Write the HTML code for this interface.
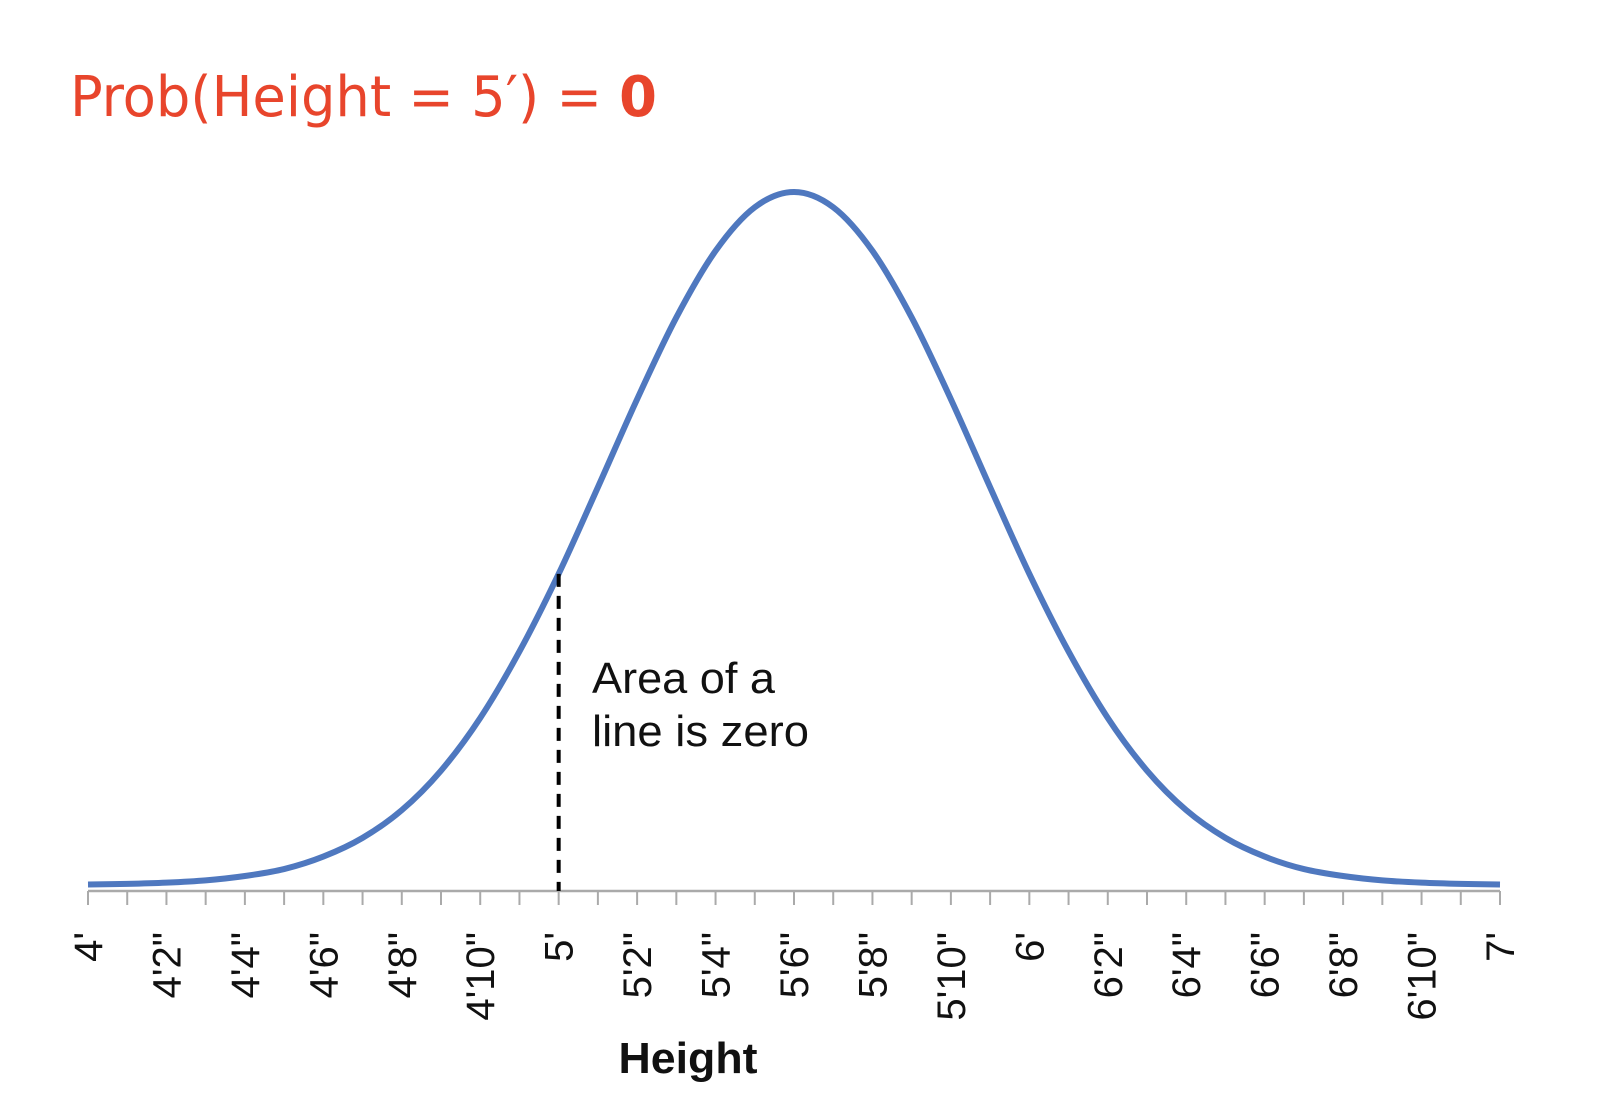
<!DOCTYPE html>
<html><head><meta charset="utf-8"><style>
html,body{margin:0;padding:0;background:#fff;}
svg{display:block;}
</style></head><body>
<svg id="chart" width="1600" height="1094" viewBox="0 0 1600 1094" xmlns="http://www.w3.org/2000/svg">
<text x="70" y="116" font-family="'DejaVu Sans Condensed','DejaVu Sans',sans-serif" font-size="56" fill="#e8452c" textLength="587" lengthAdjust="spacingAndGlyphs">Prob(Height = 5′) = <tspan font-weight="bold">0</tspan></text>
<g id="axis"></g>
<g id="series"></g>
<text x="592" y="693" font-family="'Liberation Sans',sans-serif" font-size="44" fill="#111" textLength="183" lengthAdjust="spacingAndGlyphs">Area of a</text>
<text x="592" y="746" font-family="'Liberation Sans',sans-serif" font-size="44" fill="#111" textLength="217" lengthAdjust="spacingAndGlyphs">line is zero</text>
<text x="688" y="1073" text-anchor="middle" font-family="'Liberation Sans',sans-serif" font-weight="bold" font-size="44" fill="#111" textLength="139" lengthAdjust="spacingAndGlyphs">Height</text>
</svg>
<script>
// data: height in inches from 4' (48) to 7' (84), relative density (peak = 100)
const heights = [48,49,50,51,52,53,54,55,56,57,58,59,60,61,62,63,64,65,66,67,68,69,70,71,72,73,74,75,76,77,78,79,80,81,82,83,84];
const density = [0.07,0.16,0.34,0.67,1.3,2.3,4.1,6.8,10.8,16.5,24.1,33.7,44.9,57.4,70.1,81.9,91.5,97.8,100,97.8,91.5,81.9,70.1,57.4,44.9,33.7,24.1,16.5,10.8,6.8,4.1,2.3,1.3,0.67,0.34,0.16,0.07];
const tickLabels = ["4'","4'2\"","4'4\"","4'6\"","4'8\"","4'10\"","5'","5'2\"","5'4\"","5'6\"","5'8\"","5'10\"","6'","6'2\"","6'4\"","6'6\"","6'8\"","6'10\"","7'"];
const tickLabelValues = [48,50,52,54,56,58,60,62,64,66,68,70,72,74,76,78,80,82,84];
const markerValue = [60];

const NS = 'http://www.w3.org/2000/svg';
const X0 = 88, X1 = 1500, XMIN = 48, XMAX = 84;
const Y0 = 885, Y100 = 192, AXISY = 891;
const xs = v => X0 + (v - XMIN) / (XMAX - XMIN) * (X1 - X0);
const ys = v => Y0 - v / 100 * (Y0 - Y100);
function mk(tag, attrs, parent){ const e = document.createElementNS(NS, tag); for (const k in attrs) e.setAttribute(k, attrs[k]); parent.appendChild(e); return e; }

const axis = document.getElementById('axis');
const axLine = mk('line', {x1:X0, x2:X1, y1:AXISY, y2:AXISY, stroke:'#aaa', 'stroke-width':2.5}, axis);


for (let v = XMIN; v <= XMAX; v++) {
  const t = mk('line', {x1:xs(v), x2:xs(v), y1:AXISY, y2:AXISY+14, stroke:'#aaa', 'stroke-width':2}, axis);
  
  
}
tickLabelValues.forEach((v, i) => {
  const x = xs(v) + 14, y = 932;
  const t = mk('text', {x:x, y:y, transform:'rotate(-90 '+x+' '+y+')', 'text-anchor':'end', 'font-family':"'Liberation Sans',sans-serif", 'font-size':40, fill:'#111'}, axis);
  t.textContent = tickLabels[i];
  
  
});

const series = document.getElementById('series');
const pts = heights.map((h, i) => [xs(h), ys(density[i])]);
let d = 'M' + pts[0][0] + ' ' + pts[0][1];
for (let i = 0; i < pts.length - 1; i++) {
  const p0 = pts[Math.max(0, i-1)], p1 = pts[i], p2 = pts[i+1], p3 = pts[Math.min(pts.length-1, i+2)];
  const c1 = [p1[0] + (p2[0]-p0[0])/6, p1[1] + (p2[1]-p0[1])/6];
  const c2 = [p2[0] - (p3[0]-p1[0])/6, p2[1] - (p3[1]-p1[1])/6];
  d += ' C' + c1[0] + ' ' + c1[1] + ' ' + c2[0] + ' ' + c2[1] + ' ' + p2[0] + ' ' + p2[1];
}
const curve = mk('path', {d:d, fill:'none', stroke:'#4f78bf', 'stroke-width':6, 'stroke-linejoin':'round'}, series);



const mv = markerValue[0];
const mi = heights.indexOf(mv);
const dash = mk('line', {x1:xs(mv), x2:xs(mv), y1:ys(density[mi]), y2:AXISY, stroke:'#000', 'stroke-width':4, 'stroke-dasharray':'13 9'}, series);


</script>
</body></html>
